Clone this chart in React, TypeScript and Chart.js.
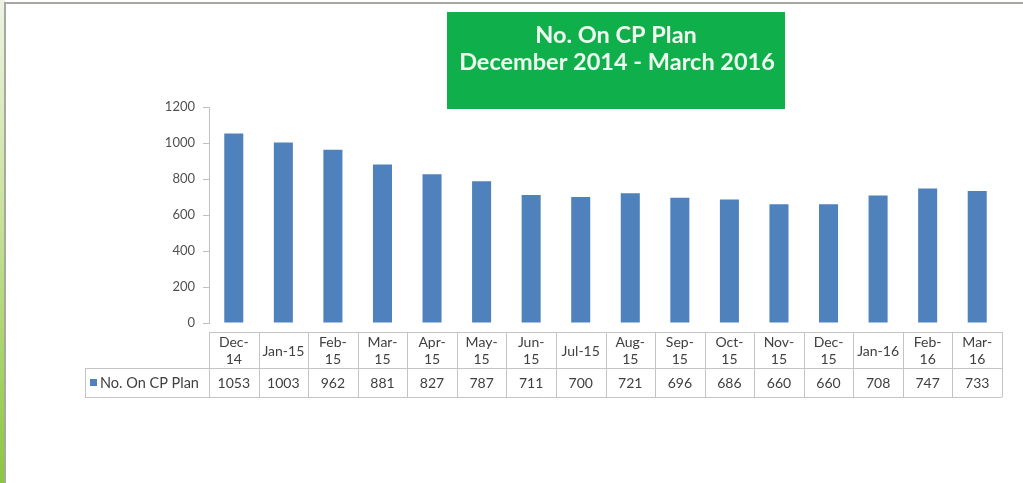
import React, { useEffect, useRef } from "react";
import { Chart, registerables } from "chart.js";

Chart.register(...registerables);

const categories = ["Dec-14", "Jan-15", "Feb-15", "Mar-15", "Apr-15", "May-15", "Jun-15", "Jul-15", "Aug-15", "Sep-15", "Oct-15", "Nov-15", "Dec-15", "Jan-16", "Feb-16", "Mar-16"];
const categoryLines = [["Dec-", "14"], ["Jan-15"], ["Feb-", "15"], ["Mar-", "15"], ["Apr-", "15"], ["May-", "15"], ["Jun-", "15"], ["Jul-15"], ["Aug-", "15"], ["Sep-", "15"], ["Oct-", "15"], ["Nov-", "15"], ["Dec-", "15"], ["Jan-16"], ["Feb-", "16"], ["Mar-", "16"]];
const seriesName = "No. On CP Plan";
const values = [1053, 1003, 962, 881, 827, 787, 711, 700, 721, 696, 686, 660, 660, 708, 747, 733];
const yTickValues = [0, 200, 400, 600, 800, 1000, 1200];
const titleLines = ["No. On CP Plan", "December 2014 - March 2016"];

const BAR_COLOR = "#4F81BD";
const FONT = "Lato, 'Open Sans', sans-serif";

const framePlugin = {
  id: "frame",
  beforeDraw(chart: any) {
    const { ctx, width, height } = chart;
    ctx.save();
    ctx.fillStyle = "#ffffff";
    ctx.fillRect(0, 0, width, height);
    const g = ctx.createLinearGradient(0, 0, 0, height);
    g.addColorStop(0, "#eef3e4");
    g.addColorStop(0.45, "#c8e29a");
    g.addColorStop(1, "#8cc63e");
    ctx.fillStyle = g;
    ctx.fillRect(0, 0, 5, height);
    ctx.strokeStyle = "#a7a9a0";
    ctx.lineWidth = 2;
    ctx.beginPath();
    ctx.moveTo(5, height);
    ctx.lineTo(5, 3);
    ctx.lineTo(width, 3);
    ctx.stroke();
    ctx.restore();
  },
  afterDraw(chart: any) {
    const { ctx, chartArea } = chart;
    const xs = chart.scales.x;
    const left = chartArea.left;
    const right = chartArea.right;
    const n = categories.length;
    const colW = (right - left) / n;
    ctx.save();
    // title box
    ctx.fillStyle = "#0FB04C";
    ctx.fillRect(447, 12, 338, 97);
    ctx.fillStyle = "#eefbee";
    ctx.font = `bold 23.5px ${FONT}`;
    ctx.textAlign = "center";
    ctx.textBaseline = "middle";
    ctx.fillText(titleLines[0], 616, 35);
    ctx.fillText(titleLines[1], 617, 62);

    // data table
    const top = 332, mid = 368, bot = 397, legLeft = 85;
    ctx.strokeStyle = "#c4c4c4";
    ctx.lineWidth = 1;
    ctx.beginPath();
    ctx.moveTo(left, top + 0.5); ctx.lineTo(right, top + 0.5);
    ctx.moveTo(legLeft, mid + 0.5); ctx.lineTo(right, mid + 0.5);
    ctx.moveTo(legLeft, bot + 0.5); ctx.lineTo(right, bot + 0.5);
    ctx.moveTo(legLeft + 0.5, mid); ctx.lineTo(legLeft + 0.5, bot);
    for (let i = 0; i <= n; i++) {
      const x = Math.round(left + i * colW) + 0.5;
      ctx.moveTo(x, top); ctx.lineTo(x, bot);
    }
    ctx.stroke();

    ctx.fillStyle = "#404040";
    ctx.font = `14px ${FONT}`;
    ctx.textAlign = "center";
    ctx.textBaseline = "middle";
    for (let i = 0; i < n; i++) {
      const cx = xs.getPixelForValue(i);
      const lines = categoryLines[i];
      if (lines.length === 1) {
        ctx.fillText(lines[0], cx, (top + mid) / 2 + 1);
      } else {
        ctx.fillText(lines[0], cx, top + 10);
        ctx.fillText(lines[1], cx, top + 27);
      }
      ctx.fillText(String(values[i]), cx, (mid + bot) / 2 + 1);
    }
    ctx.fillStyle = BAR_COLOR;
    ctx.fillRect(90, 379, 7, 7);
    ctx.fillStyle = "#404040";
    ctx.textAlign = "left";
    ctx.font = `14.5px ${FONT}`;
    ctx.fillText(seriesName, 100, (mid + bot) / 2 + 1);
    ctx.restore();
  },
};

export default function App() {
  const ref = useRef<HTMLCanvasElement | null>(null);
  useEffect(() => {
    if (!ref.current) return;
    const chart = new Chart(ref.current, {
      type: "bar",
      data: {
        labels: categories,
        datasets: [
          {
            label: seriesName,
            data: values,
            backgroundColor: BAR_COLOR,
            barPercentage: 0.8,
            categoryPercentage: 0.48,
          },
        ],
      },
      options: {
        responsive: false,
        animation: false,
        devicePixelRatio: 1,
        layout: { padding: { top: 107, right: 21, bottom: 160, left: 0 } },
        plugins: { legend: { display: false }, tooltip: { enabled: false }, title: { display: false } },
        scales: {
          x: { display: false },
          y: {
            min: 0,
            max: 1200,
            afterFit: (scale: any) => { scale.width = 209; },
            afterBuildTicks: (scale: any) => { scale.ticks = yTickValues.map((v) => ({ value: v })); },
            ticks: { color: "#505050", font: { family: FONT, size: 13 }, padding: 8, callback: (v: any) => String(v) },
            grid: { drawOnChartArea: false, drawTicks: true, tickLength: 6, color: "#c0c0c0" },
            border: { color: "#c0c0c0" },
          },
        },
      },
      plugins: [framePlugin],
    });
    return () => chart.destroy();
  }, []);
  return (
    <div style={{ position: "absolute", left: 0, top: 0, width: 1023, height: 483, background: "#fff" }}>
      <canvas ref={ref} width={1023} height={483} />
    </div>
  );
}
